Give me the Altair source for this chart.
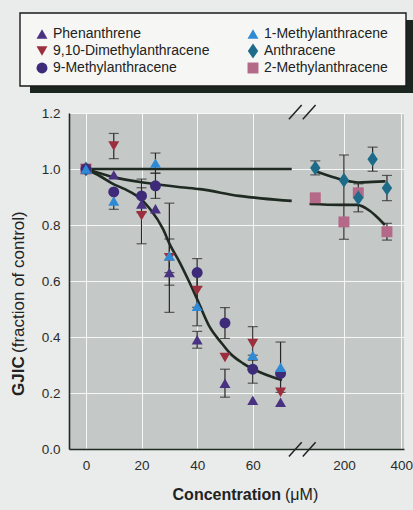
import altair as alt
import pandas as pd

# ---------------- data ----------------
# legend order (filled column by column)
SERIES = ["Phenanthrene", "9,10-Dimethylanthracene", "9-Methylanthracene",
          "1-Methylanthracene", "Anthracene", "2-Methylanthracene"]
COLORS = ["#4a3282", "#9c2f3d", "#3d2b7a", "#2f8ad6", "#1d6b88", "#b56989"]
SHAPES = ["triangle-up", "triangle-down", "circle", "triangle-up",
          "M0,-1.35L0.95,0L0,1.35L-0.95,0Z", "square"]
SIZES = [120, 120, 150, 120, 130, 115]

# left segment (0-70 uM)
phen_conc = [0, 10, 20, 25, 30, 40, 50, 60, 70]
phen_val = [1.0, 0.979, 0.875, 0.858, 0.63, 0.39, 0.235, 0.174, 0.167]
phen_err = [0, 0, 0, 0, 0.045, 0.03, 0.05, 0, 0]

dime_conc = [0, 10, 20, 30, 40, 50, 60, 70]
dime_val = [1.0, 1.082, 0.833, 0.683, 0.566, 0.327, 0.377, 0.203]
dime_err = [0, 0.045, 0.10, 0.195, 0.06, 0, 0.06, 0]

me9_conc = [0, 10, 20, 25, 40, 50, 60, 70]
me9_val = [1.0, 0.918, 0.904, 0.94, 0.63, 0.45, 0.285, 0.27]
me9_err = [0, 0, 0.06, 0.045, 0.05, 0.055, 0.05, 0]

me1_conc = [0, 10, 25, 30, 40, 60, 70]
me1_val = [1.0, 0.886, 1.021, 0.69, 0.51, 0.335, 0.292]
me1_err = [0, 0.03, 0.036, 0.06, 0.07, 0, 0.09]

# right segment (100-400 uM) plus control at 0
anth_conc = [0, 100, 200, 250, 300, 350]
anth_val = [1.0, 1.004, 0.96, 0.897, 1.035, 0.932]
anth_err = [0, 0.025, 0.09, 0.05, 0.043, 0.045]

me2_conc = [0, 100, 200, 250, 350]
me2_val = [1.0, 0.897, 0.811, 0.915, 0.776]
me2_err = [0, 0, 0.062, 0, 0.03]

# fitted curves
curveA_left_conc = [0, 74]
curveA_left_val = [1.0, 1.0]
curveA_right_conc = [105, 150, 200, 225, 250, 300, 345]
curveA_right_val = [0.99, 0.975, 0.96, 0.955, 0.952, 0.954, 0.956]

curveB_left_conc = [0, 5, 10, 22, 34, 41, 55, 74]
curveB_left_val = [1.0, 0.985, 0.971, 0.95, 0.935, 0.928, 0.904, 0.886]
curveB_right_conc = [80, 186, 245, 291, 318, 343]
curveB_right_val = [0.875, 0.872, 0.872, 0.85, 0.826, 0.80]

curveC_conc = [0, 5, 9.7, 14, 18.3, 23, 27.7, 30.2, 33.8, 37, 40, 44.6, 48.9, 51.8, 56.5, 62.6, 67.3, 70.5]
curveC_val = [1.0, 0.975, 0.947, 0.928, 0.904, 0.858, 0.786, 0.73, 0.665, 0.6, 0.535, 0.434, 0.377, 0.342, 0.306, 0.274, 0.256, 0.246]

x_tick_conc = [0, 20, 40, 60, 200, 400]
y_ticks = [0.0, 0.2, 0.4, 0.6, 0.8, 1.0, 1.2]

# broken-axis mapping: right segment placed after the break
R_ORIGIN = 92.8   # axis position of 200 uM
R_SCALE = 9.7     # uM per axis unit on the right segment


def pos(c, seg):
    return c if seg == "L" else R_ORIGIN + (c - 200) / R_SCALE


def seg_of(c):
    return "L" if c <= 75 else "R"


rows = []
# drawing order (later entries on top)
for name, cs, vs, es in [
    ("2-Methylanthracene", me2_conc, me2_val, me2_err),
    ("Anthracene", anth_conc, anth_val, anth_err),
    ("9,10-Dimethylanthracene", dime_conc, dime_val, dime_err),
    ("Phenanthrene", phen_conc, phen_val, phen_err),
    ("9-Methylanthracene", me9_conc, me9_val, me9_err),
    ("1-Methylanthracene", me1_conc, me1_val, me1_err),
]:
    for c, v, e in zip(cs, vs, es):
        rows.append({"series": name, "conc": c, "seg": seg_of(c), "val": v,
                     "lo": v - e, "hi": v + e, "err": e})
pts = pd.DataFrame(rows)
pts["xp"] = [pos(c, s) for c, s in zip(pts["conc"], pts["seg"])]
pts["ord"] = range(len(pts))
errs = pts[pts["err"] > 0].copy()

crows = []
for cid, seg, cs, vs in [
    ("A1", "L", curveA_left_conc, curveA_left_val),
    ("A2", "R", curveA_right_conc, curveA_right_val),
    ("B1", "L", curveB_left_conc, curveB_left_val),
    ("B2", "R", curveB_right_conc, curveB_right_val),
    ("C", "L", curveC_conc, curveC_val),
]:
    for i, (c, v) in enumerate(zip(cs, vs)):
        crows.append({"cid": cid, "i": i, "xp": pos(c, seg), "val": v})
curves = pd.DataFrame(crows)

tick_pos = [pos(c, "L" if c <= 75 else "R") for c in x_tick_conc]
label_map = "{" + ",".join(f"'{round(p, 3)}':'{c}'" for p, c in zip(tick_pos, x_tick_conc)) + "}"

# break marks (axis units)
brk = pd.DataFrame([
    {"x": 73.0, "x2": 77.6, "y": -0.027, "y2": 0.024},
    {"x": 78.0, "x2": 82.6, "y": -0.027, "y2": 0.024},
    {"x": 73.0, "x2": 77.6, "y": 1.178, "y2": 1.229},
    {"x": 78.0, "x2": 82.6, "y": 1.178, "y2": 1.229},
])

XDOM = [-6.1, 114.4]
x_scale = alt.Scale(domain=XDOM, nice=False, zero=False)
y_scale = alt.Scale(domain=[0, 1.2], nice=False)
FONT = "Liberation Sans"
INK = "#1f2a22"

x_axis = alt.Axis(values=tick_pos, labelExpr=f"{label_map}[''+round(datum.value*1000)/1000]",
                  title=None, grid=True, gridColor="white", gridWidth=1, gridOpacity=0.85,
                  domainColor=INK, domainWidth=1.6, ticks=False, labelPadding=9,
                  labelFont=FONT, labelFontSize=13.5, labelColor="#2b2b2b")
y_axis = alt.Axis(values=y_ticks, format=".1f", title=None, grid=True, gridColor="white",
                  gridWidth=1, gridOpacity=0.85, domainColor=INK, domainWidth=1.6,
                  ticks=False, labelPadding=9, labelFont=FONT, labelFontSize=13.5,
                  labelColor="#2b2b2b")

one = pd.DataFrame({"k": [0]})

# legend box with drop shadow (pixel space relative to plot origin)
shadow = alt.Chart(one).mark_rect(color="#1c2620").encode(
    x=alt.value(-39), x2=alt.value(344), y=alt.value(-93), y2=alt.value(-20))
box = alt.Chart(one).mark_rect(color="#f6f7f4", stroke="#1a1a1a", strokeWidth=1.4).encode(
    x=alt.value(-49), x2=alt.value(337), y=alt.value(-100), y2=alt.value(-27))

lines = alt.Chart(curves).mark_line(color=INK, strokeWidth=2.6, interpolate="monotone").encode(
    x=alt.X("xp:Q", scale=x_scale, axis=x_axis),
    y=alt.Y("val:Q", scale=y_scale, axis=y_axis),
    detail="cid:N", order="i:Q")

ebar = alt.Chart(errs).mark_rule(color="#262626", strokeWidth=1.2).encode(
    x=alt.X("xp:Q", scale=x_scale), y=alt.Y("lo:Q", scale=y_scale), y2="hi:Q")
cap_lo = alt.Chart(errs).mark_tick(color="#262626", orient="horizontal", size=10, thickness=1.2).encode(
    x=alt.X("xp:Q", scale=x_scale), y=alt.Y("lo:Q", scale=y_scale))
cap_hi = alt.Chart(errs).mark_tick(color="#262626", orient="horizontal", size=10, thickness=1.2).encode(
    x=alt.X("xp:Q", scale=x_scale), y=alt.Y("hi:Q", scale=y_scale))

legend = alt.Legend(title=None, orient="none", legendX=-46, legendY=-98, columns=2,
                    padding=12, columnPadding=36, rowPadding=2, labelFont=FONT,
                    labelFontSize=14, labelColor="#222222", symbolSize=120,
                    symbolStrokeWidth=0, labelOffset=4, zindex=1)

points = alt.Chart(pts).mark_point(filled=True, opacity=1, strokeWidth=0).encode(
    x=alt.X("xp:Q", scale=x_scale),
    y=alt.Y("val:Q", scale=y_scale),
    color=alt.Color("series:N", scale=alt.Scale(domain=SERIES, range=COLORS), legend=legend),
    shape=alt.Shape("series:N", scale=alt.Scale(domain=SERIES, range=SHAPES), legend=legend),
    size=alt.Size("series:N", scale=alt.Scale(domain=SERIES, range=SIZES), legend=None),
    order=alt.Order("ord:Q"),
)

breaks = alt.Chart(brk).mark_rule(color="#222222", strokeWidth=1.5).encode(
    x=alt.X("x:Q", scale=x_scale), x2="x2:Q", y=alt.Y("y:Q", scale=y_scale), y2="y2:Q")

txt = dict(font=FONT, fontSize=17, color="#222222", baseline="middle")
yt1 = alt.Chart(one).mark_text(text="GJIC", fontWeight="bold", angle=270, align="left", **txt).encode(
    x=alt.value(-50), y=alt.value(283))
yt2 = alt.Chart(one).mark_text(text="(fraction of control)", angle=270, align="left", **txt).encode(
    x=alt.value(-50), y=alt.value(240))
xt1 = alt.Chart(one).mark_text(text="Concentration", fontWeight="bold", align="right",
                               font=FONT, fontSize=16, color="#222222", baseline="middle").encode(
    x=alt.value(212), y=alt.value(382))
xt2 = alt.Chart(one).mark_text(text="(\u03bcM)", align="left",
                               font=FONT, fontSize=16, color="#222222", baseline="middle").encode(
    x=alt.value(216), y=alt.value(382))

chart = alt.layer(
    shadow, box, lines, ebar, cap_lo, cap_hi, points, breaks, yt1, yt2, xt1, xt2
).resolve_scale(
    x="shared", y="shared"
).properties(
    width=335, height=336, background="#e9eceb",
    padding={"left": 69, "top": 113, "right": 9, "bottom": 61},
    autosize=alt.AutoSizeParams(type="none"),
).configure_view(
    fill="#c4c8c6", stroke=None
)

chart.save("out.html", embed_options={"renderer": "svg", "actions": False})
